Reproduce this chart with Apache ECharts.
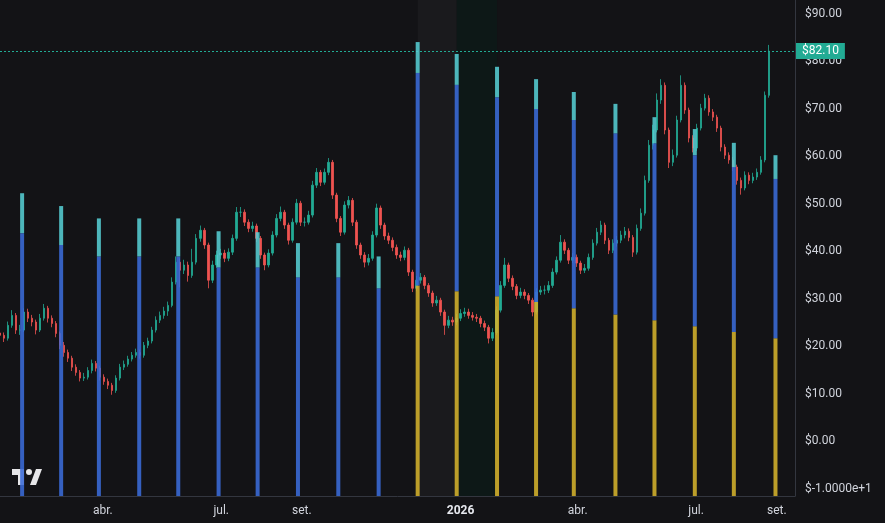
<!DOCTYPE html>
<html><head><meta charset="utf-8">
<script src="https://cdn.jsdelivr.net/npm/echarts@6/dist/echarts.min.js"></script>
<style>html,body{margin:0;padding:0;background:#131316;}#c{width:885px;height:523px;}</style>
</head><body><div id="c"></div>
<script>
// ---- price candles (evenly spaced from candleStart to candleEnd) ----
const candleStart = '2025-01-12';
const candleEnd = '2026-08-26';
const firstOpen = 22.8;
const closes = [
22.3,21.7,24.4,26.5,23.4,23.4,27.2,25.9,25.1,23.4,
25.9,28.0,25.9,24.8,22.7,20.2,18.7,17.5,15.6,14.5,
13.3,13.5,14.9,16.4,15.4,13.5,12.6,11.8,10.7,13.3,
15.6,16.2,17.3,18.1,18.7,18.1,20.2,21.1,23.4,25.5,
26.5,27.4,28.6,33.5,37.7,36.0,37.1,34.9,37.7,42.7,
44.4,41.3,33.9,37.1,39.2,39.6,38.5,39.8,42.7,48.2,
48.2,46.1,44.8,45.3,42.7,39.2,37.1,39.6,43.4,46.9,
48.2,45.5,42.3,46.1,50.1,46.1,46.1,47.6,53.9,56.6,
54.5,56.6,58.7,51.8,46.9,44.0,49.7,50.7,46.1,41.3,
39.2,37.7,38.5,43.4,49.1,45.5,43.2,42.3,40.8,39.2,
38.7,40.2,35.6,32.2,33.9,34.5,32.8,31.2,29.1,29.7,
27.2,24.4,25.5,25.1,25.9,26.9,27.2,26.5,26.1,25.9,
24.8,24.0,21.7,22.9,27.6,32.8,37.1,34.3,32.6,30.7,
31.4,30.7,29.7,27.2,31.4,31.8,31.8,32.8,35.6,38.1,
41.9,40.2,38.1,38.7,37.5,36.0,36.4,38.7,41.7,44.0,
45.5,42.3,40.2,41.7,42.3,43.4,44.2,42.9,39.8,44.8,
48.0,54.9,62.3,65.5,71.8,74.9,65.5,58.7,60.2,67.6,
74.9,69.7,63.8,61.7,65.9,70.1,72.2,69.3,68.2,65.9,
61.9,60.2,59.2,57.7,54.9,53.3,56.0,54.9,55.6,56.6,
59.2,72.8,82.1];
const highs = [
23.6,22.9,25.2,27.6,27.0,24.5,28.0,27.9,26.6,25.6,
26.8,28.9,28.5,26.5,25.3,23.1,20.9,19.3,18.0,16.2,
15.0,14.4,15.6,17.2,16.9,15.9,14.1,13.2,12.3,13.9,
16.3,17.0,18.0,18.8,19.5,19.3,20.9,21.8,24.1,26.3,
27.3,28.3,29.4,34.5,38.9,38.5,38.2,37.8,40.5,43.6,
45.4,44.9,41.8,38.0,40.1,40.5,40.3,40.6,43.5,49.3,
49.3,48.8,46.7,46.2,45.8,43.2,39.7,40.4,44.2,47.8,
49.4,48.7,46.0,46.9,51.0,50.6,47.1,48.5,54.8,57.5,
57.1,57.4,59.6,59.2,52.3,47.4,50.5,51.6,51.2,46.6,
41.8,39.8,39.4,44.2,50.0,49.6,46.0,43.9,42.9,41.4,
39.9,41.0,40.7,36.1,34.8,35.4,35.0,33.3,31.7,30.6,
30.2,27.7,26.4,26.2,26.8,27.8,28.1,27.9,27.2,26.8,
26.4,25.4,24.5,23.8,28.4,33.7,38.6,37.6,34.9,33.1,
32.3,32.0,31.2,30.2,32.2,32.7,32.8,33.7,36.4,38.9,
43.4,42.5,40.7,39.6,39.3,38.0,37.3,39.5,42.5,44.9,
46.4,46.0,42.8,42.5,43.2,44.3,45.1,44.8,43.4,45.6,
49.0,55.9,63.4,66.6,73.2,76.2,75.5,66.0,61.4,68.5,
77.0,75.5,70.2,64.4,66.8,71.0,73.1,72.8,69.9,68.7,
66.4,62.5,60.8,59.8,58.2,55.5,56.8,56.6,56.5,57.4,
60.0,73.6,83.4];
const lows = [
21.5,20.9,21.2,23.9,22.6,22.4,23.0,25.1,24.2,22.5,
23.0,25.4,25.0,24.0,21.9,19.4,17.8,16.7,14.8,13.8,
12.6,12.7,13.0,14.3,14.7,12.8,11.9,11.0,9.8,10.2,
12.8,15.0,15.7,16.8,17.6,17.4,17.6,19.6,20.6,22.9,
24.9,25.8,26.4,28.2,33.0,32.4,35.2,33.6,34.4,37.2,
42.0,40.5,32.2,33.3,36.5,38.4,37.7,37.9,39.2,42.2,
47.2,45.3,44.0,44.1,41.9,38.4,36.0,36.6,39.1,42.9,
46.3,44.7,41.4,41.8,45.6,45.3,45.2,45.6,47.1,53.3,
53.7,54.0,56.0,51.0,46.1,43.2,43.5,49.0,45.3,40.5,
38.4,36.6,37.0,38.0,42.9,44.7,42.4,41.5,40.0,38.4,
37.9,38.1,34.8,31.4,31.6,33.2,32.0,30.4,28.3,28.5,
26.4,22.4,23.8,24.3,24.5,25.3,26.2,25.8,25.4,25.1,
24.0,23.2,20.6,21.1,22.4,27.1,32.3,33.5,31.8,29.9,
30.1,29.9,28.9,26.3,26.7,30.8,30.9,31.2,32.3,35.1,
37.6,39.4,37.3,37.5,36.7,35.2,35.4,35.9,38.2,41.2,
43.4,41.5,39.4,39.6,41.0,41.7,42.7,42.1,38.8,39.3,
44.3,47.5,54.4,61.4,65.0,71.0,64.6,57.5,57.9,59.7,
67.1,68.9,62.9,60.8,61.1,65.4,69.6,68.5,67.4,65.1,
61.0,59.4,58.4,56.9,54.0,51.9,52.8,54.1,54.3,55.0,
56.1,58.7,72.3];
const lastPrice = 82.10;

// ---- monthly stacked columns ----
const monthDates = ['2025-01-29','2025-02-28','2025-03-29','2025-04-29','2025-05-29','2025-06-29',
  '2025-07-29','2025-08-29','2025-09-29','2025-10-30','2025-11-29','2025-12-29','2026-01-29',
  '2026-02-28','2026-03-29','2026-04-30','2026-05-30','2026-06-30','2026-07-30','2026-08-31'];
const yellowTop = [null,null,null,null,null,null,null,null,null,null,
  32.8,31.6,30.5,29.3,28.0,26.7,25.5,24.2,23.0,21.7];
const blueTop = [43.8,41.3,38.9,38.9,38.9,36.6,36.6,34.5,34.5,32.2,
  77.5,75.0,72.4,69.9,67.6,64.8,62.7,60.2,57.7,55.2];
const cyanTop = [52.2,49.5,46.9,46.9,46.9,44.2,44.0,41.7,41.7,38.9,
  84.0,81.5,78.8,76.2,73.5,71.0,68.2,65.7,62.8,60.2];

// ---- axes ----
const xMin = '2025-01-12';
const xMax = '2026-09-15';
const xTickDates = ['2025-04-01','2025-07-01','2025-09-01','2026-01-01','2026-04-01','2026-07-01','2026-09-01'];
const xTickLabels = ['abr.','jul.','set.','2026','abr.','jul.','set.'];
const yMin = -11.5, yMax = 92.85;
const yTickValues = [-10,0,10,20,30,40,50,60,70,80,90];
const yTickLabels = ['$-1.0000e+1','$0.00','$10.00','$20.00','$30.00','$40.00','$50.00','$60.00','$70.00','$80.00','$90.00'];

// ---- build ----
const ts = (d) => new Date(d + 'T00:00:00Z').getTime();
const t0 = ts(candleStart);
const t1 = ts(candleEnd);
const n = closes.length;
const candleData = closes.map((c, i) => {
  const o = i === 0 ? firstOpen : closes[i - 1];
  return [t0 + (t1 - t0) * i / (n - 1), o, c, lows[i], highs[i]];
});
const colData = monthDates.map((d, i) => [ts(d),
  yellowTop[i] == null ? yMin : yellowTop[i], blueTop[i], cyanTop[i]]);
const xTickTs = xTickDates.map(ts);

const chart = echarts.init(document.getElementById('c'), null, {renderer: 'canvas'});
const font = 'Roboto, "Liberation Sans", sans-serif';
chart.setOption({
  backgroundColor: '#131316',
  animation: false,
  grid: {left: 0, right: 90, top: 0, bottom: 27, containLabel: false},
  xAxis: {
    type: 'value', min: ts(xMin), max: ts(xMax), scale: true,
    axisLine: {show: true, onZero: false, lineStyle: {color: '#33363f'}},
    axisTick: {show: false},
    splitLine: {show: false},
    axisLabel: {
      customValues: xTickTs,
      margin: 9, fontSize: 12, fontFamily: font, color: '#d1d4dc',
      formatter: (v) => {
        const k = xTickTs.indexOf(v);
        const s = k >= 0 ? xTickLabels[k] : '';
        return /^\d{4}$/.test(s) ? '{b|' + s + '}' : s;
      },
      rich: {b: {fontWeight: 'bold', fontSize: 12, fontFamily: font, color: '#e6e8ee'}}
    }
  },
  yAxis: {
    type: 'value', position: 'right', min: yMin, max: yMax,
    axisLine: {show: true, lineStyle: {color: '#33363f'}},
    axisTick: {show: false},
    splitLine: {show: false},
    axisLabel: {
      customValues: yTickValues,
      margin: 10, fontSize: 12, fontFamily: font, color: '#d1d4dc',
      formatter: (v) => {
        const k = yTickValues.indexOf(Math.round(v));
        return k >= 0 ? yTickLabels[k] : '';
      }
    }
  },
  series: [
    {
      type: 'candlestick',
      data: candleData,
      barWidth: 2,
      itemStyle: {color: '#22ab94', color0: '#ef5350', borderColor: '#22ab94', borderColor0: '#ef5350', borderWidth: 0.8},
      markLine: {
        silent: true, symbol: ['none', 'none'],
        lineStyle: {color: '#22ab94', type: [2, 2], width: 1},
        label: {
          position: 'end', distance: 1, formatter: (p) => '$' + p.value.toFixed(2),
          backgroundColor: '#22ab94', color: '#ffffff', padding: [2, 6, 2, 6],
          fontSize: 12, fontFamily: font
        },
        data: [{yAxis: lastPrice}]
      },
      markArea: {
        silent: true,
        data: [
          [{xAxis: colData[10][0], itemStyle: {color: 'rgba(255,255,255,0.03)'}}, {xAxis: colData[11][0]}],
          [{xAxis: colData[11][0], itemStyle: {color: 'rgba(0,35,25,0.3)'}}, {xAxis: colData[12][0]}]
        ]
      }
    },
    {
      type: 'custom',
      data: colData,
      z: 5,
      renderItem: (params, api) => {
        const x = api.value(0);
        const bottom = api.coord([x, yMin]);
        const pY = api.coord([x, api.value(1)]);
        const pB = api.coord([x, api.value(2)]);
        const pC = api.coord([x, api.value(3)]);
        const w = 4;
        const left = bottom[0] - w / 2;
        const mk = (yTop, yBot, color) => ({
          type: 'rect', shape: {x: left, y: yTop, width: w, height: Math.max(0, yBot - yTop)},
          style: {fill: color, opacity: 0.88}
        });
        return {type: 'group', children: [
          mk(pY[1], bottom[1], '#d4b22c'),
          mk(pB[1], pY[1], '#3a6bd8'),
          mk(pC[1], pB[1], '#55cdd3')
        ]};
      }
    }
  ],
  graphic: [
    {type: 'group', left: 12, top: 469, children: [
      {type: 'rect', shape: {x: 0, y: 0, width: 12, height: 6}, style: {fill: '#e6e6e8'}},
      {type: 'rect', shape: {x: 6, y: 0, width: 6, height: 16}, style: {fill: '#e6e6e8'}},
      {type: 'circle', shape: {cx: 17, cy: 3, r: 3}, style: {fill: '#e6e6e8'}},
      {type: 'polygon', shape: {points: [[18, 16], [24, 16], [30, 0], [24, 0]]}, style: {fill: '#e6e6e8'}}
    ]}
  ]
});
</script></body></html>
